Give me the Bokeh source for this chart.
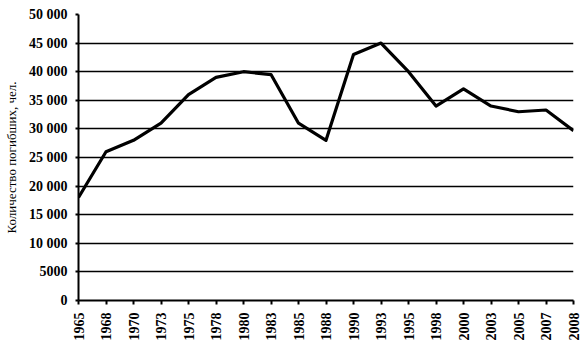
import math
from bokeh.plotting import figure
from bokeh.models import FixedTicker, Range1d
from bokeh.embed import file_html
from bokeh.resources import INLINE

years = ["1965", "1968", "1970", "1973", "1975", "1978", "1980", "1983", "1985", "1988",
         "1990", "1993", "1995", "1998", "2000", "2003", "2005", "2007", "2008"]
deaths = [18000, 26000, 28000, 31000, 36000, 39000, 40000, 39500, 31000, 28000,
          43000, 45000, 40000, 34000, 37000, 34000, 33000, 33300, 29700]
y_ticks = [0, 5000, 10000, 15000, 20000, 25000, 30000, 35000, 40000, 45000, 50000]
y_tick_labels = ["0", "5000", "10 000", "15 000", "20 000", "25 000", "30 000",
                 "35 000", "40 000", "45 000", "50 000"]
y_title = "Количество погибших, чел."

xs = list(range(len(years)))

p = figure(width=587, height=352, output_backend="svg", toolbar_location=None,
           x_range=Range1d(0, len(years) - 1), y_range=Range1d(0, 50000),
           min_border_left=78, min_border_right=14, min_border_top=14, min_border_bottom=52)
p.outline_line_color = None
p.background_fill_color = "white"

p.line(xs, deaths, line_color="black", line_width=3.2, line_join="round")

# x axis
p.xaxis.ticker = FixedTicker(ticks=xs)
p.xaxis.major_label_overrides = {i: y for i, y in enumerate(years)}
p.xaxis.major_label_orientation = math.pi / 2
p.xaxis.major_tick_in = 0
p.xaxis.major_tick_out = 4
p.xaxis.minor_tick_line_color = None
p.xaxis.major_label_standoff = 8
p.xaxis.axis_line_color = "black"
p.xaxis.axis_line_width = 2
p.xaxis.major_tick_line_width = 2
p.xaxis.major_label_text_font = "Liberation Serif"
p.xaxis.major_label_text_font_style = "bold"
p.xaxis.major_label_text_font_size = "14px"
p.xaxis.major_label_text_color = "black"

# y axis
p.yaxis.ticker = FixedTicker(ticks=y_ticks)
p.yaxis.major_label_overrides = {t: l for t, l in zip(y_ticks, y_tick_labels)}
p.yaxis.major_tick_in = 0
p.yaxis.major_tick_out = 3
p.yaxis.minor_tick_line_color = None
p.yaxis.major_label_standoff = 8
p.yaxis.axis_line_color = "black"
p.yaxis.axis_line_width = 2
p.yaxis.major_tick_line_width = 2
p.yaxis.major_label_text_font = "Liberation Serif"
p.yaxis.major_label_text_font_style = "bold"
p.yaxis.major_label_text_font_size = "14px"
p.yaxis.major_label_text_color = "black"
p.yaxis.axis_label = y_title
p.yaxis.axis_label_text_font = "Liberation Serif"
p.yaxis.axis_label_text_font_style = "normal"
p.yaxis.axis_label_text_font_size = "13px"
p.yaxis.axis_label_text_color = "black"
p.yaxis.axis_label_standoff = 7

# grid
p.xgrid.grid_line_color = None
p.ygrid.ticker = FixedTicker(ticks=y_ticks)
p.ygrid.grid_line_color = "black"
p.ygrid.grid_line_width = 1.5

open("out.html", "w").write(file_html(p, INLINE))
